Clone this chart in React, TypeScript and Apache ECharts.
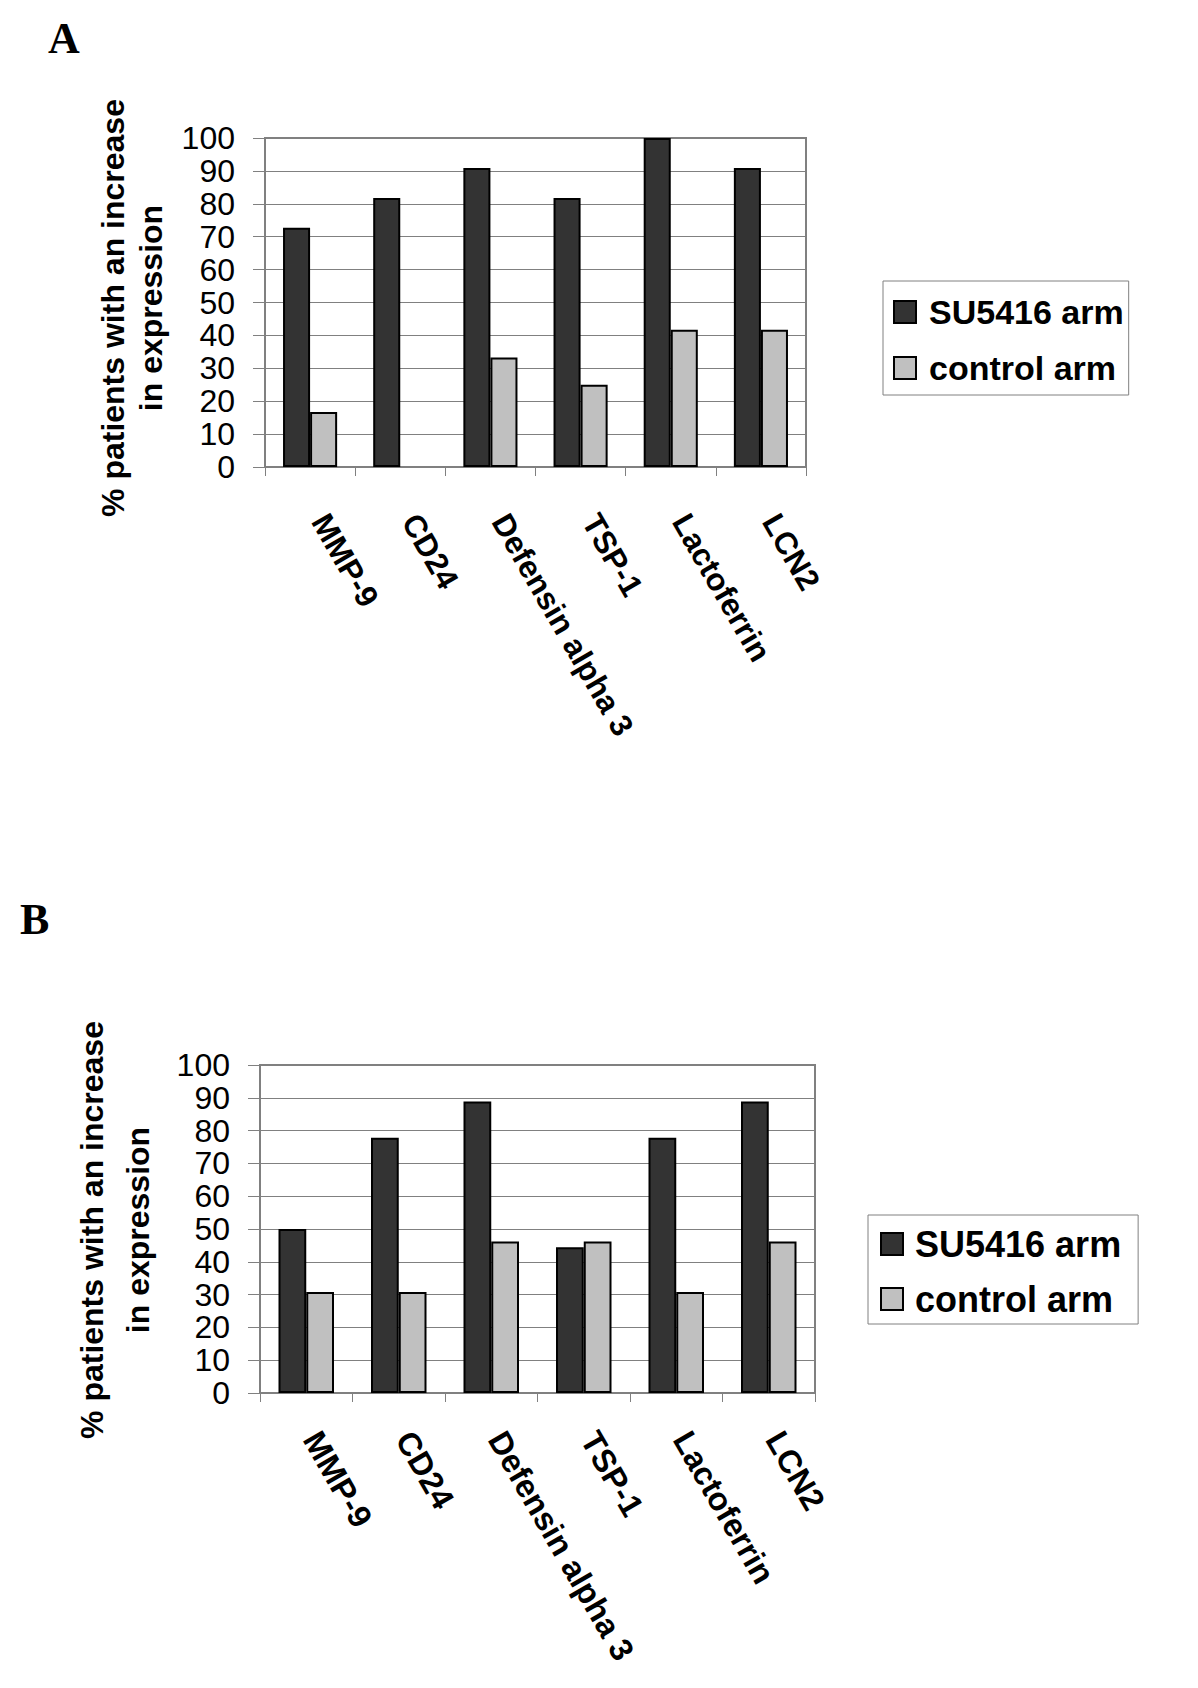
import React, { useEffect, useRef } from "react";
import * as echarts from "echarts";

// ---- data ----
const categories = ["MMP-9", "CD24", "Defensin alpha 3", "TSP-1", "Lactoferrin", "LCN2"];
const su5416A = [72.7, 81.8, 90.9, 81.8, 100, 90.9];
const controlA = [16.7, 0, 33.3, 25, 41.7, 41.7];
const su5416B = [50, 77.8, 88.9, 44.4, 77.8, 88.9];
const controlB = [30.8, 30.8, 46.2, 46.2, 30.8, 46.2];
const seriesNames = ["SU5416 arm", "control arm"];
const yTitleLines = ["% patients with an increase", "in expression"];
const panelLabels = ["A", "B"];
const yMin = 0;
const yMax = 100;
const yInterval = 10;

const SANS = "'Liberation Sans', Arial, Helvetica, sans-serif";
const SERIF = "'Liberation Serif', 'Times New Roman', serif";
const DARK = "#333333";
const LIGHT = "#c0c0c0";
const GRAY = "#808080";

function withZeroNoBorder(arr: number[]) {
  return arr.map((v) => (v === 0 ? { value: v, itemStyle: { borderWidth: 0 } } : v));
}

export default function App() {
  const ref = useRef<HTMLDivElement>(null);

  useEffect(() => {
    if (!ref.current) return;
    const chart = echarts.init(ref.current, undefined, { renderer: "svg" });

    const xAxisCommon = (gridIndex: number, fontSize: number, margin: number, padBottom: number) => ({
      type: "category",
      gridIndex,
      data: categories,
      axisLine: { show: true, lineStyle: { color: GRAY, width: 2 } },
      axisTick: { show: true, length: 9, lineStyle: { color: GRAY, width: 1 } },
      axisLabel: {
        interval: 0,
        rotate: -60,
        margin,
        fontSize,
        fontWeight: "bold",
        fontFamily: SANS,
        color: "#000",
        formatter: (v: string) => `{t|${v}}`,
        rich: {
          t: {
            fontSize,
            fontWeight: "bold",
            fontFamily: SANS,
            color: "#000",
            padding: [0, 0, padBottom, 0],
          },
        },
      },
      splitLine: { show: false },
    });

    const yAxisCommon = (gridIndex: number) => ({
      type: "value",
      gridIndex,
      min: yMin,
      max: yMax,
      interval: yInterval,
      axisLine: { show: true, lineStyle: { color: GRAY, width: 2 } },
      axisTick: { show: true, inside: false, length: 12, lineStyle: { color: GRAY, width: 1 } },
      axisLabel: { fontSize: 32, fontFamily: SANS, color: "#000", margin: 30 },
      splitLine: { show: true, lineStyle: { color: GRAY, width: 1 } },
    });

    const barSeries = (name: string, data: any[], color: string, idx: number) => ({
      type: "bar",
      name,
      xAxisIndex: idx,
      yAxisIndex: idx,
      data,
      barGap: "0%",
      barCategoryGap: "40%",
      itemStyle: { color, borderColor: "#000", borderWidth: 2 },
      emphasis: { disabled: true },
    });

    const legendCommon = (left: number, top: number, padding: number[], gap: number, fontSize: number, textPad: number) => ({
      data: seriesNames,
      orient: "vertical",
      left,
      top,
      padding,
      itemGap: gap,
      itemWidth: 22,
      itemHeight: 22,
      icon: "rect",
      selectedMode: false,
      borderColor: GRAY,
      borderWidth: 1,
      backgroundColor: "#fff",
      itemStyle: { borderColor: "#000", borderWidth: 2 },
      textStyle: {
        fontSize,
        fontWeight: "bold",
        fontFamily: SANS,
        color: "#000",
        lineHeight: 36,
        padding: [0, 0, 0, textPad],
      },
    });

    const txt = (text: string, x: number, y: number, font: string, rotation = 0, align = "center") => ({
      type: "text",
      x,
      y,
      rotation,
      silent: true,
      style: {
        text,
        font,
        fill: "#000",
        textAlign: align,
        align,
        textVerticalAlign: "middle",
        verticalAlign: "middle",
      },
    });

    const option: any = {
      animation: false,
      backgroundColor: "#fff",
      grid: [
        { left: 265, top: 138, width: 541, height: 329, show: true, borderColor: GRAY, borderWidth: 2, backgroundColor: "transparent" },
        { left: 260, top: 1065, width: 555, height: 328, show: true, borderColor: GRAY, borderWidth: 2, backgroundColor: "transparent" },
      ],
      xAxis: [xAxisCommon(0, 31.5, 55, 23), xAxisCommon(1, 32.5, 44, 12)],
      yAxis: [yAxisCommon(0), yAxisCommon(1)],
      legend: [
        legendCommon(883, 281, [13, 5, 9, 10], 20, 34, 8),
        legendCommon(868, 1215, [11, 17, 7, 12], 19, 36, 7),
      ],
      series: [
        barSeries(seriesNames[0], su5416A, DARK, 0),
        barSeries(seriesNames[1], withZeroNoBorder(controlA), LIGHT, 0),
        barSeries(seriesNames[0], su5416B, DARK, 1),
        barSeries(seriesNames[1], withZeroNoBorder(controlB), LIGHT, 1),
      ],
      graphic: [
        txt(panelLabels[0], 48, 38, `bold 44px ${SERIF}`, 0, "left"),
        txt(panelLabels[1], 20, 919, `bold 44px ${SERIF}`, 0, "left"),
        txt(yTitleLines[0], 113, 308, `bold 32px ${SANS}`, Math.PI / 2),
        txt(yTitleLines[1], 151, 308, `bold 32px ${SANS}`, Math.PI / 2),
        txt(yTitleLines[0], 92, 1230, `bold 32px ${SANS}`, Math.PI / 2),
        txt(yTitleLines[1], 138, 1230, `bold 32px ${SANS}`, Math.PI / 2),
      ],
    };

    chart.setOption(option);
    return () => chart.dispose();
  }, []);

  return (
    <div
      ref={ref}
      style={{ position: "absolute", left: 0, top: 0, width: 1198, height: 1688, background: "#fff" }}
    />
  );
}
